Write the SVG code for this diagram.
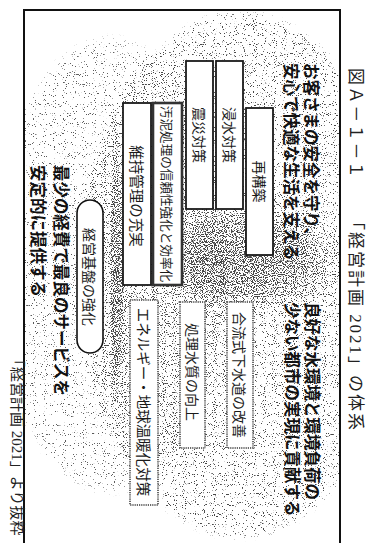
<svg xmlns="http://www.w3.org/2000/svg" width="371" height="543" viewBox="0 0 371 543">
<defs>
<style>
.hd{font-family:"Noto Sans CJK JP","Noto Sans",sans-serif;font-weight:700;font-size:16.5px;fill:#111;dominant-baseline:central}
.bx{font-family:"Noto Sans CJK JP","Noto Sans",sans-serif;font-size:14px;fill:#1a1a1a;dominant-baseline:central;text-anchor:middle}
.ttl{font-family:"Liberation Serif","Noto Sans CJK JP",serif;font-size:17px;fill:#222;dominant-baseline:central}
.sol{fill:#fff;stroke:#1a1a1a;stroke-width:1.8}
.heavy{fill:#fff;stroke:#333;stroke-width:2.6}
.dot{fill:#fff;stroke:#6a6a6a;stroke-width:2;stroke-dasharray:1.2 1}
.rnd{fill:#fff;stroke:#111;stroke-width:1.6}
</style>
<filter id="stipple" filterUnits="userSpaceOnUse" x="25" y="11" width="314" height="532" color-interpolation-filters="sRGB">
<feTurbulence type="fractalNoise" baseFrequency="0.9" numOctaves="1" seed="7" result="noise"/>
<feColorMatrix in="noise" type="matrix" values="0 0 0 0 0  0 0 0 0 0  0 0 0 0 0  2.5 0 0 0 -0.75" result="nA"/>
<feComposite in="SourceGraphic" in2="nA" operator="arithmetic" k1="0" k2="8" k3="-8" k4="0" result="d"/>
<feColorMatrix in="d" type="matrix" values="0 0 0 0 0.28  0 0 0 0 0.28  0 0 0 0 0.28  0 0 0 1 0"/>
</filter>
<radialGradient id="gBig">
<stop offset="0" stop-color="#000" stop-opacity="0.2"/>
<stop offset="0.7" stop-color="#000" stop-opacity="0.18"/>
<stop offset="0.96" stop-color="#000" stop-opacity="0.16"/>
<stop offset="1" stop-color="#000" stop-opacity="0"/>
</radialGradient>
<radialGradient id="gLeft">
<stop offset="0" stop-color="#000" stop-opacity="0.12"/>
<stop offset="0.94" stop-color="#000" stop-opacity="0.11"/>
<stop offset="1" stop-color="#000" stop-opacity="0"/>
</radialGradient>
<radialGradient id="gDense">
<stop offset="0" stop-color="#000" stop-opacity="0.42"/>
<stop offset="0.6" stop-color="#000" stop-opacity="0.3"/>
<stop offset="1" stop-color="#000" stop-opacity="0"/>
</radialGradient>
</defs>
<rect x="0" y="0" width="371" height="543" fill="#fff"/>

<g id="stipple-bg" filter="url(#stipple)">
<ellipse cx="110" cy="265" rx="120" ry="232" fill="url(#gLeft)"/>
<ellipse cx="240" cy="275" rx="164" ry="267" fill="url(#gBig)"/>
<ellipse cx="250" cy="258" rx="100" ry="60" fill="url(#gDense)"/>
<ellipse cx="117" cy="275" rx="9" ry="150" fill="url(#gDense)"/>
</g>

<rect id="frame" x="24" y="10" width="316" height="545" fill="none" stroke="#111" stroke-width="2"/>

<g id="title">
<text class="ttl" transform="translate(355,68) rotate(90)" textLength="110" lengthAdjust="spacing">図Ａ－１－１</text>
<text class="ttl" transform="translate(355,213) rotate(90)" textLength="217" lengthAdjust="spacing">「経営計画 2021」の体系</text>
</g>

<g id="goal1">
<text class="hd" transform="translate(312,63) rotate(90)">お客さまの安全を守り、</text>
<text class="hd" transform="translate(292,63) rotate(90)">安心で快適な生活を支える</text>
</g>
<g id="goal2">
<text class="hd" transform="translate(313,302) rotate(90)">良好な水環境と環境負荷の</text>
<text class="hd" transform="translate(293,302) rotate(90)">少ない都市の実現に貢献する</text>
</g>
<g id="goal3">
<text class="hd" transform="translate(62,165) rotate(90)">最少の経費で最良のサービスを</text>
<text class="hd" transform="translate(39,165) rotate(90)">安定的に提供する</text>
</g>

<g id="n-saikouchiku">
<rect class="sol" x="246" y="108" width="27" height="147"/>
<text class="bx" transform="translate(259.5,181.5) rotate(90)">再構築</text>
</g>
<g id="n-shinsui">
<rect class="sol" x="216" y="61" width="27" height="148"/>
<text class="bx" transform="translate(229.5,135) rotate(90)">浸水対策</text>
</g>
<g id="n-shinsai">
<rect class="sol" x="186" y="61" width="27" height="148"/>
<text class="bx" transform="translate(199.5,135) rotate(90)">震災対策</text>
</g>
<g id="n-odei">
<rect class="heavy" x="153" y="103" width="29" height="182"/>
<text class="bx" style="font-size:12.6px" transform="translate(167.5,194) rotate(90)">汚泥処理の信頼性強化と効率化</text>
</g>
<g id="n-iji">
<rect class="sol" x="123" y="103" width="28" height="182"/>
<text class="bx" style="font-size:14.5px" transform="translate(137,196) rotate(90)">維持管理の充実</text>
</g>
<g id="n-goryu">
<rect class="dot" x="227" y="302" width="26" height="146"/>
<text class="bx" transform="translate(240,375) rotate(90)">合流式下水道の改善</text>
</g>
<g id="n-shorisui">
<rect class="dot" x="180" y="302" width="25" height="146"/>
<text class="bx" transform="translate(192.5,372) rotate(90)">処理水質の向上</text>
</g>
<g id="n-energy">
<rect class="dot" x="130" y="300" width="28" height="205"/>
<text class="bx" style="font-size:14.5px" transform="translate(144,402) rotate(90)">エネルギー・地球温暖化対策</text>
</g>
<g id="n-keiei">
<rect class="rnd" x="77" y="200" width="26" height="153" rx="13" ry="13"/>
<text class="bx" transform="translate(90,277) rotate(90)">経営基盤の強化</text>
</g>

<g id="connectors"/>

<g id="caption">
<text class="ttl" style="font-size:15px" transform="translate(17,352) rotate(90)">「経営計画 2021」より抜粋</text>
</g>
</svg>
